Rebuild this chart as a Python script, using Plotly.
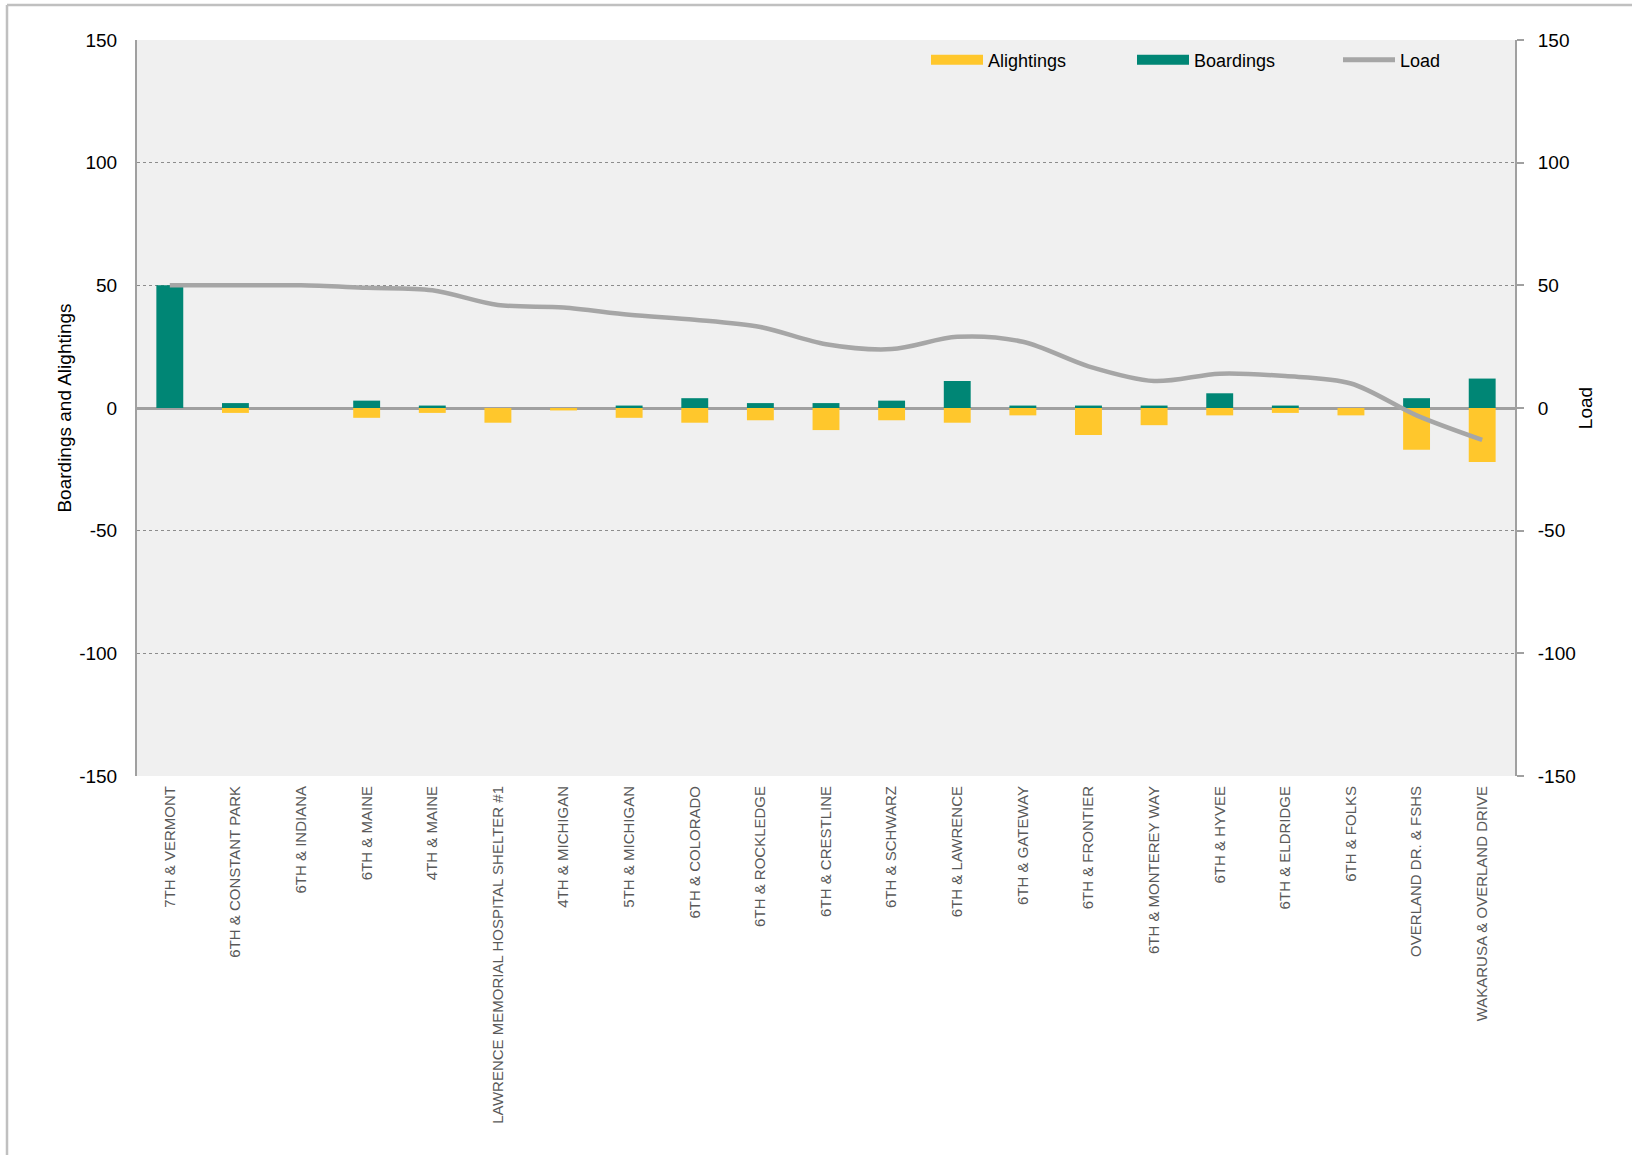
import plotly.graph_objects as go

stops = ["7TH & VERMONT", "6TH & CONSTANT PARK", "6TH & INDIANA", "6TH & MAINE", "4TH & MAINE",
         "LAWRENCE MEMORIAL HOSPITAL SHELTER #1", "4TH & MICHIGAN", "5TH & MICHIGAN", "6TH & COLORADO",
         "6TH & ROCKLEDGE", "6TH & CRESTLINE", "6TH & SCHWARZ", "6TH & LAWRENCE", "6TH & GATEWAY",
         "6TH & FRONTIER", "6TH & MONTEREY WAY", "6TH & HYVEE", "6TH & ELDRIDGE", "6TH & FOLKS",
         "OVERLAND DR. & FSHS", "WAKARUSA & OVERLAND DRIVE"]
boardings = [50, 2, 0, 3, 1, 0, 0, 1, 4, 2, 2, 3, 11, 1, 1, 1, 6, 1, 0, 4, 12]
alightings = [0, -2, 0, -4, -2, -6, -1, -4, -6, -5, -9, -5, -6, -3, -11, -7, -3, -2, -3, -17, -22]
load = [50, 50, 50, 49, 48, 42, 41, 38, 36, 33, 26, 24, 29, 27, 17, 11, 14, 13, 10, -3, -13]
y_ticks = [-150, -100, -50, 0, 50, 100, 150]
y_tick_text = ["-150", "-100", "-50", "0", "50", "100", "150"]

C_ALI = "#FFC72C"
C_BRD = "#008675"
C_LOAD = "#A6A6A6"
FONT = "Liberation Sans, Arial, sans-serif"

fig = go.Figure()
fig.add_trace(go.Bar(x=stops, y=alightings, name="Alightings", marker=dict(color=C_ALI, line=dict(width=0)), showlegend=False))
fig.add_trace(go.Bar(x=stops, y=boardings, name="Boardings", marker=dict(color=C_BRD, line=dict(width=0)), showlegend=False))
fig.add_trace(go.Scatter(x=stops, y=load, name="Load", mode="lines", yaxis="y2",
                         line=dict(color=C_LOAD, width=4.5, shape="spline", smoothing=0.9), showlegend=False))
# legend entries
fig.add_trace(go.Scatter(x=[None], y=[None], name="Alightings", mode="lines", line=dict(color=C_ALI, width=12)))
fig.add_trace(go.Scatter(x=[None], y=[None], name="Boardings", mode="lines", line=dict(color=C_BRD, width=12)))
fig.add_trace(go.Scatter(x=[None], y=[None], name="Load", mode="lines", line=dict(color=C_LOAD, width=5)))

L, R, T, B = 137, 117, 40, 379
W, H = 1632, 1155
pw, ph = W - L - R, H - T - B
def px(x):
    return (x - L) / pw
def py(y):
    return (H - B - y) / ph

fig.update_layout(
    width=W, height=H,
    margin=dict(l=L, r=R, t=T, b=B, autoexpand=False),
    paper_bgcolor="white", plot_bgcolor="#F0F0F0",
    barmode="relative", bargap=0.59,
    font=dict(family=FONT, size=19, color="black"),
    xaxis=dict(type="category", showgrid=False, tickangle=-90, ticks="", showline=False,
               tickfont=dict(family=FONT, size=15, color="#595959"), ticklabelstandoff=6),
    yaxis=dict(range=[-150, 150], tickvals=y_ticks, ticktext=y_tick_text, showgrid=True, gridcolor="#8C8C8C", griddash="dot", gridwidth=1,
               zeroline=True, zerolinecolor="#A0A0A0", zerolinewidth=2.5,
               showline=True, linecolor="#A0A0A0", linewidth=2, ticks="",
               tickfont=dict(family=FONT, size=19, color="black"), ticklabelstandoff=14,
               title=dict(text="Boardings and Alightings", font=dict(family=FONT, size=19, color="black"), standoff=3)),
    yaxis2=dict(range=[-150, 150], tickvals=y_ticks, ticktext=y_tick_text, overlaying="y", side="right", showgrid=False, zeroline=False,
                showline=True, linecolor="#A0A0A0", linewidth=2, ticks="outside", ticklen=7, tickcolor="#A0A0A0", tickwidth=2,
                tickfont=dict(family=FONT, size=19, color="black"), ticklabelstandoff=10,
                title=dict(text="Load", font=dict(family=FONT, size=19, color="black"), standoff=4)),
    legend=dict(orientation="h", x=px(926), y=py(60), xanchor="left", yanchor="middle",
                bgcolor="rgba(0,0,0,0)", itemwidth=52, entrywidth=139, font=dict(family=FONT, size=18, color="black")),
    shapes=[
        dict(type="line", xref="paper", yref="paper", x0=px(7), x1=px(7), y0=py(5), y1=py(H + 5), line=dict(color="#C0C0C0", width=2.5)),
        dict(type="line", xref="paper", yref="paper", x0=px(7), x1=px(W + 5), y0=py(5), y1=py(5), line=dict(color="#C0C0C0", width=2.5)),
    ],
)
fig.write_html("out.html", config={"displayModeBar": False}, post_script="document.body.style.margin='0px';")
